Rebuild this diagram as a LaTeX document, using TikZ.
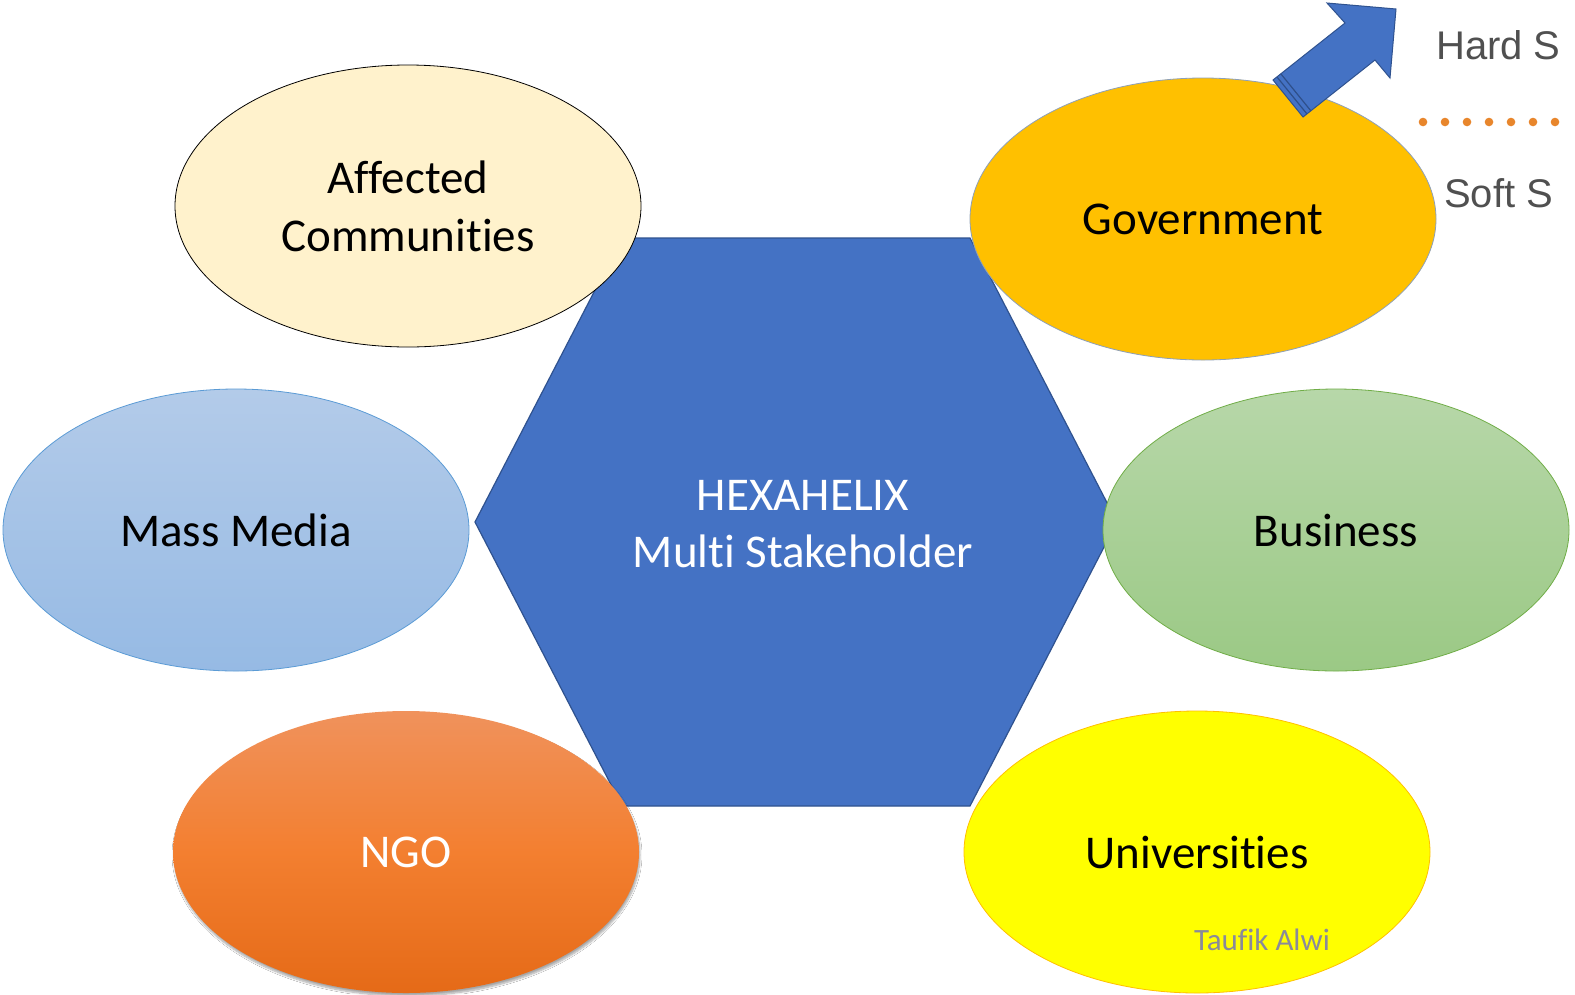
\documentclass[tikz,border=0pt]{standalone}
\usepackage{fontspec}
\setmainfont[Ligatures={NoCommon}]{Carlito}
\newfontfamily\legendfont{Liberation Sans}
\usetikzlibrary{shapes.geometric,shadows.blur}

\definecolor{hexfill}{HTML}{4472C4}
\definecolor{hexline}{HTML}{2F528F}
\definecolor{commfill}{HTML}{FFF2CC}
\definecolor{govfill}{HTML}{FFC000}
\definecolor{govline}{HTML}{8EA0B8}
\definecolor{mediatop}{HTML}{B3CBE9}
\definecolor{mediabot}{HTML}{96BAE4}
\definecolor{medialine}{HTML}{5B9BD5}
\definecolor{busitop}{HTML}{B7D7A9}
\definecolor{busibot}{HTML}{9BC985}
\definecolor{busiline}{HTML}{70AD47}
\definecolor{ngotop}{HTML}{F0925C}
\definecolor{ngomid}{HTML}{F37F30}
\definecolor{ngobot}{HTML}{E56A17}
\definecolor{unifill}{HTML}{FFFF00}
\definecolor{uniline}{HTML}{FFC000}
\definecolor{signgray}{HTML}{8A8A9A}
\definecolor{legendgray}{HTML}{505050}
\definecolor{dotorange}{HTML}{E8862C}
\definecolor{stripe}{HTML}{2E4F8A}

\tikzset{
  stake/.style={ellipse, minimum width=466pt, minimum height=282pt, inner sep=0pt,
    align=center, font=\fontsize{47}{58}\selectfont, line width=0.8pt},
  legend/.style={font=\legendfont\fontsize{40}{44}\selectfont, text=legendgray, anchor=west, inner sep=0pt},
}

\begin{document}
\begin{tikzpicture}[x=1pt,y=-1pt]
  \useasboundingbox (0,0) rectangle (1575,994);
  \clip (0,0) rectangle (1575,994);
  \fill[white] (0,0) rectangle (1575,994);

  % central hexagon
  \draw[fill=hexfill, draw=hexline, line width=1.2pt]
    (622,238) -- (970,238) -- (1117,522) -- (970,806) -- (622,806) -- (475,522) -- cycle;
  \node[text=white, align=center, font=\fontsize{47}{57}\selectfont] (hex) at (803,524)
    {HEXAHELIX\\Multi Stakeholder};

  % stakeholders around the hexagon
  \node[stake, draw=black, fill=commfill] (comm) at (408,206) {Affected\\Communities};
  \node[stake, draw=govline, fill=govfill] (gov) at (1203,219) {Government};
  \node[stake, draw=medialine, top color=mediatop, bottom color=mediabot] (media) at (236,530) {Mass Media};
  \node[stake, draw=busiline, top color=busitop, bottom color=busibot] (busi) at (1336,530) {Business};
  \node[stake, draw=none, top color=ngotop, bottom color=ngobot, middle color=ngomid,
        text=white, blur shadow={shadow xshift=1pt, shadow yshift=-3pt, shadow blur steps=8, shadow opacity=35}]
        (ngo) at (406,852) {NGO};
  \node[stake, draw=uniline, fill=unifill] (uni) at (1197,852) {Universities};
  \node[text=signgray, font=\fontsize{31}{34}\selectfont] (sign) at (1262,940) {Taufik Alwi};

  % striped block arrow leaving the government ellipse
  \draw[fill=hexfill, draw=hexline, line width=1pt, line join=miter]
    (1273,80) -- (1345,23) -- (1327,3) -- (1396,9) -- (1390,78) -- (1375,60) -- (1303,117) -- cycle;
  \draw[stripe, line width=1.2pt] (1277,77) -- (1307,114);
  \draw[stripe, line width=1.2pt] (1281,74) -- (1311,111);

  % legend at the right edge
  \node[legend] (hard) at (1436,45) {Hard S};
  \node[legend] (soft) at (1444,193) {Soft S};
  \foreach \i in {0,...,6}
    \fill[dotorange] (1423+22*\i,122) circle (4.3);
\end{tikzpicture}
\end{document}
